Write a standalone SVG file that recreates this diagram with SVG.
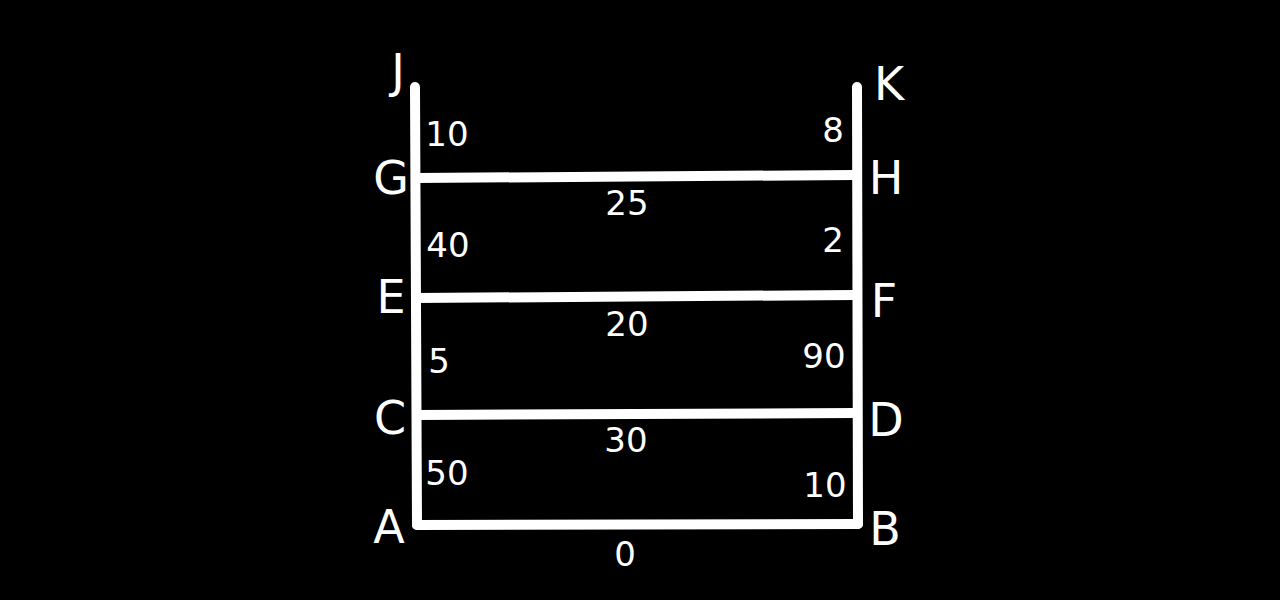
<svg xmlns="http://www.w3.org/2000/svg" width="1280" height="600" viewBox="0 0 1280 600">
<style>
.ln{stroke:#fff;stroke-width:10;stroke-linecap:round;fill:none}
.lbl{fill:#fff;font-family:"DejaVu Sans",sans-serif;font-size:46px;text-anchor:middle}
.num{fill:#fff;font-family:"DejaVu Sans",sans-serif;font-size:34px;text-anchor:middle}
</style>
<rect x="0" y="0" width="1280" height="600" fill="#000"/>
<g id="connectors">
<line class="ln" x1="415" y1="87" x2="417" y2="525"/>
<line class="ln" x1="857" y1="87" x2="858" y2="524"/>
<line class="ln" x1="417" y1="178" x2="855" y2="175"/>
<line class="ln" x1="417" y1="298" x2="855" y2="295"/>
<line class="ln" x1="417" y1="415" x2="855" y2="413"/>
<line class="ln" x1="417" y1="525" x2="858" y2="524"/>
</g>
<g id="edge-labels">
<text class="num" x="447" y="146">10</text>
<text class="num" x="833" y="142">8</text>
<text class="num" x="627" y="215">25</text>
<text class="num" x="448" y="257">40</text>
<text class="num" x="833" y="252">2</text>
<text class="num" x="627" y="336">20</text>
<text class="num" x="439" y="373">5</text>
<text class="num" x="824" y="368">90</text>
<text class="num" x="626" y="452">30</text>
<text class="num" x="447" y="485">50</text>
<text class="num" x="825" y="497">10</text>
<text class="num" x="625" y="566">0</text>
</g>
<g id="node-J"><text class="lbl" x="398" y="87">J</text></g>
<g id="node-K"><text class="lbl" x="889" y="100">K</text></g>
<g id="node-G"><text class="lbl" x="391" y="194">G</text></g>
<g id="node-H"><text class="lbl" x="886" y="194">H</text></g>
<g id="node-E"><text class="lbl" x="391" y="313">E</text></g>
<g id="node-F"><text class="lbl" x="884" y="317">F</text></g>
<g id="node-C"><text class="lbl" x="390" y="434">C</text></g>
<g id="node-D"><text class="lbl" x="886" y="436">D</text></g>
<g id="node-A"><text class="lbl" x="389" y="543">A</text></g>
<g id="node-B"><text class="lbl" x="885" y="545">B</text></g>
</svg>
